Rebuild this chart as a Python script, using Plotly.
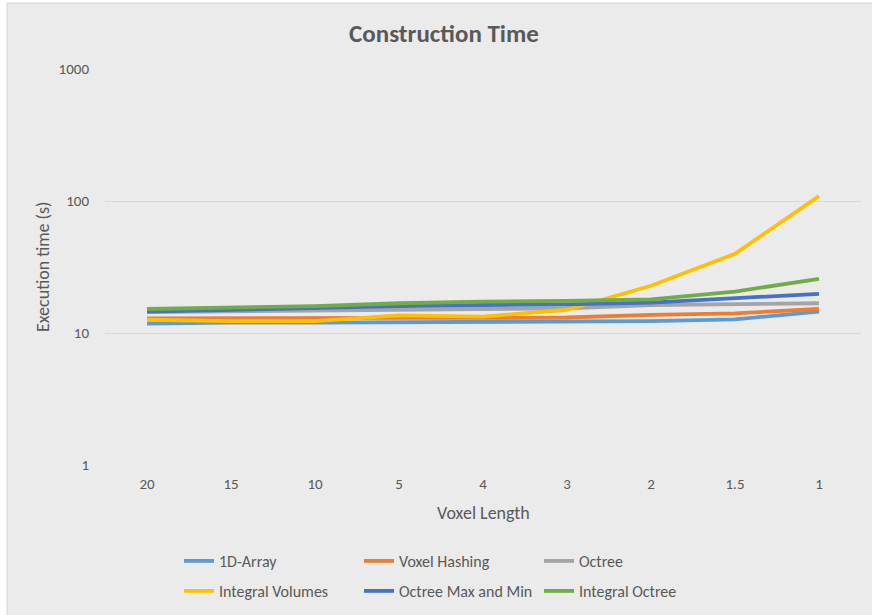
import plotly.graph_objects as go

# Voxel lengths (categorical, largest to smallest)
voxel_length = ["20", "15", "10", "5", "4", "3", "2", "1.5", "1"]

# Construction time in seconds for each structure
array_1d = [11.8, 12.0, 12.0, 12.1, 12.1, 12.2, 12.3, 12.7, 14.5]
voxel_hashing = [12.9, 13.0, 12.9, 13.0, 13.0, 13.1, 13.7, 14.1, 15.2]
octree = [14.4, 14.6, 14.8, 15.0, 15.0, 15.4, 16.3, 16.5, 16.8]
integral_volumes = [12.6, 12.3, 12.3, 13.6, 13.3, 15.0, 22.8, 39.8, 109.0]
octree_max_min = [14.5, 15.0, 15.6, 16.0, 16.3, 16.5, 17.0, 18.3, 19.8]
integral_octree = [15.2, 15.5, 16.0, 16.8, 17.3, 17.5, 18.0, 20.6, 25.7]

series = [
    ("1D-Array", array_1d, "#5B9BD5", "legend"),
    ("Voxel Hashing", voxel_hashing, "#ED7D31", "legend"),
    ("Octree", octree, "#A5A5A5", "legend"),
    ("Integral Volumes", integral_volumes, "#FFC000", "legend2"),
    ("Octree Max and Min", octree_max_min, "#4472C4", "legend2"),
    ("Integral Octree", integral_octree, "#70AD47", "legend2"),
]

FONT = "Calibri, Carlito, Lato, sans-serif"
TEXT = "#595959"

W, H = 872, 615
L, R, T, B = 105, 11, 69, 150
PW, PH = W - L - R, H - T - B


def px_x(px):
    return (px - L) / PW


def px_y(py):
    return (H - B - py) / PH


fig = go.Figure()
for name, vals, color, leg in series:
    fig.add_trace(go.Scatter(
        x=voxel_length, y=vals, name=name, mode="lines",
        line=dict(color=color, width=3.8), legend=leg,
    ))

# chart area panel
fig.add_shape(type="rect", xref="paper", yref="paper",
              x0=px_x(7), x1=px_x(W + 5), y0=px_y(H + 5), y1=px_y(3),
              fillcolor="#EBEBEB", line=dict(color="#D4D4D4", width=1),
              layer="below")

legend_style = dict(orientation="h", xanchor="left", yanchor="top",
                    entrywidth=135, entrywidthmode="pixels",
                    bgcolor="rgba(0,0,0,0)", font=dict(size=16, color=TEXT),
                    itemwidth=30)

fig.update_layout(
    width=W, height=H,
    margin=dict(l=L, r=R, t=T, b=B, autoexpand=False),
    paper_bgcolor="white",
    plot_bgcolor="rgba(0,0,0,0)",
    font=dict(family=FONT, color=TEXT, size=14),
    title=dict(text="<b>Construction Time</b>", xref="container", yref="container",
               x=444 / W, y=1 - 33 / H, xanchor="center", yanchor="middle",
               font=dict(size=25, color=TEXT, family=FONT)),
    xaxis=dict(type="category", range=[-0.5, 8.5], showgrid=False,
               zeroline=False, showline=False, ticks="",
               tickfont=dict(size=15, color=TEXT), ticklabelstandoff=8),
    yaxis=dict(type="log", range=[0, 3], tickvals=[1, 10, 100, 1000],
               ticktext=["1", "10", "100", "1000"],
               showgrid=True, gridcolor="#D9D9D9", gridwidth=1,
               zeroline=False, showline=False, ticks="",
               tickfont=dict(size=15, color=TEXT), ticklabelstandoff=15),
    showlegend=True,
    legend=dict(legend_style, x=px_x(179), y=px_y(544)),
    legend2=dict(legend_style, x=px_x(179), y=px_y(574)),
    annotations=[
        dict(text="Voxel Length", xref="paper", yref="paper",
             x=0.5, y=px_y(513), xanchor="center", yanchor="middle",
             showarrow=False, font=dict(size=18, color=TEXT)),
        dict(text="Execution time (s)", xref="paper", yref="paper",
             x=px_x(43), y=0.5, xanchor="center", yanchor="middle",
             textangle=-90, showarrow=False, font=dict(size=18, color=TEXT)),
    ],
)

fig.write_html("out.html")
